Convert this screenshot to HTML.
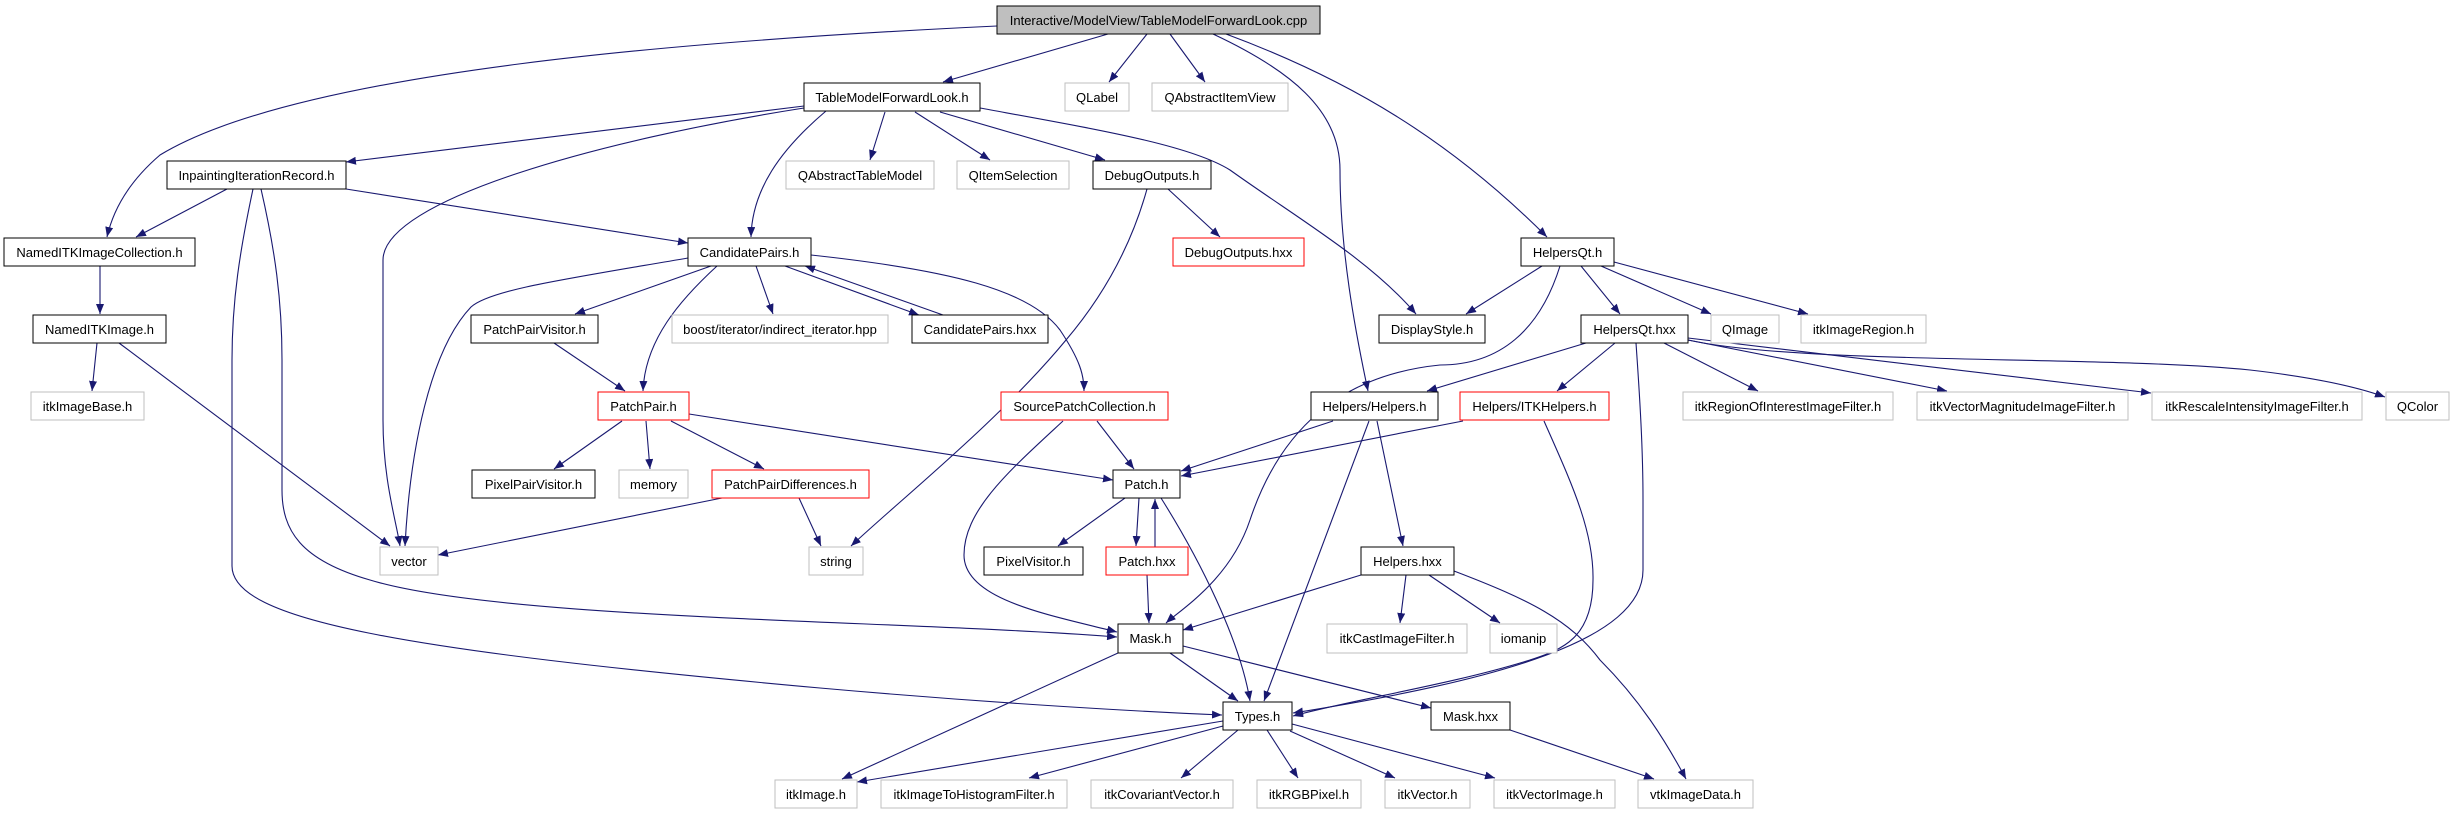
<!DOCTYPE html>
<html><head><meta charset="utf-8"><style>
html,body{margin:0;padding:0;background:#fff;}
svg{display:block;}
text{font-family:"Liberation Sans",sans-serif;font-size:13px;fill:#000;}
.k{fill:#fff;stroke:#000;stroke-width:1}
.g{fill:#fff;stroke:#bfbfbf;stroke-width:1}
.r{fill:#fff;stroke:#ff0000;stroke-width:1}
.e{fill:none;stroke:#191970;stroke-width:1.1;marker-end:url(#a)}
</style></head><body>
<svg width="2453" height="813" viewBox="0 0 2453 813" xmlns="http://www.w3.org/2000/svg">
<defs><marker id="a" markerUnits="userSpaceOnUse" markerWidth="11" markerHeight="8" refX="10" refY="4" orient="auto"><path d="M0,0 L10,4 L0,8 z" fill="#191970"/></marker></defs>

<path class="e" d="M997,26 C700,40 300,70 160,155 C125,185 112,215 107,237"/>
<path class="e" d="M1108,34 L943,82"/>
<path class="e" d="M1147,34 L1109,82"/>
<path class="e" d="M1170,34 L1205,82"/>
<path class="e" d="M1213,34 C1290,70 1340,110 1340,170 C1340,250 1355,330 1368,391"/>
<path class="e" d="M1226,34 C1350,80 1450,140 1547,237"/>
<path class="e" d="M804,106 L346,162"/>
<path class="e" d="M804,108 C600,140 383,200 383,260 L383,420 C383,480 396,520 400,546"/>
<path class="e" d="M826,111 C780,150 752,190 751,237"/>
<path class="e" d="M885,112 L870,160"/>
<path class="e" d="M915,112 L990,160"/>
<path class="e" d="M940,112 L1105,160"/>
<path class="e" d="M980,108 C1100,130 1190,145 1230,170 C1300,220 1370,260 1416,314"/>
<path class="e" d="M1147,189 C1130,250 1100,300 1066,340 C1000,420 900,500 851,546"/>
<path class="e" d="M1168,189 L1220,237"/>
<path class="e" d="M227,189 L136,237"/>
<path class="e" d="M346,189 L688,243"/>
<path class="e" d="M261,189 C275,250 282,300 282,360 L282,490 C282,530 300,560 370,580 C500,620 900,620 1117,637"/>
<path class="e" d="M253,189 C240,250 232,300 232,360 L232,566 C232,620 400,650 820,688 C1000,704 1150,712 1222,715"/>
<path class="e" d="M100,266 L100,314"/>
<path class="e" d="M97,343 L92,391"/>
<path class="e" d="M119,343 L390,546"/>
<path class="e" d="M688,258 C560,280 490,290 471,307 C430,350 410,450 405,546"/>
<path class="e" d="M711,266 L575,314"/>
<path class="e" d="M717,266 C680,300 645,340 643,391"/>
<path class="e" d="M756,266 L773,314"/>
<path class="e" d="M785,266 L919,315"/>
<path class="e" d="M943,315 L805,266"/>
<path class="e" d="M811,255 C950,270 1030,290 1060,330 C1080,360 1084,375 1084,391"/>
<path class="e" d="M1542,266 L1466,314"/>
<path class="e" d="M1560,266 C1540,330 1500,365 1440,365 C1340,375 1280,430 1250,520 C1230,580 1180,610 1166,623"/>
<path class="e" d="M1581,266 L1620,314"/>
<path class="e" d="M1601,266 L1711,314"/>
<path class="e" d="M1614,262 L1808,314"/>
<path class="e" d="M1586,343 L1427,391"/>
<path class="e" d="M1615,343 L1557,391"/>
<path class="e" d="M1636,343 C1640,400 1643,450 1643,500 L1643,570 C1643,640 1500,680 1293,713"/>
<path class="e" d="M1664,343 L1758,391"/>
<path class="e" d="M1688,340 L1947,391"/>
<path class="e" d="M1688,338 L2151,393"/>
<path class="e" d="M1688,340 C1800,365 2100,355 2250,370 C2320,378 2360,388 2385,397"/>
<path class="e" d="M622,421 L554,469"/>
<path class="e" d="M646,421 L650,469"/>
<path class="e" d="M671,421 L764,469"/>
<path class="e" d="M689,414 L1113,480"/>
<path class="e" d="M554,343 L625,391"/>
<path class="e" d="M722,498 L438,555"/>
<path class="e" d="M799,498 L821,546"/>
<path class="e" d="M1097,421 L1134,469"/>
<path class="e" d="M1063,421 C1010,470 964,510 964,555 C964,600 1050,615 1117,632"/>
<path class="e" d="M1333,421 L1181,471"/>
<path class="e" d="M1463,421 L1181,476"/>
<path class="e" d="M1369,421 L1264,701"/>
<path class="e" d="M1377,421 L1403,546"/>
<path class="e" d="M1544,421 C1570,480 1594,530 1593,580 C1593,640 1560,650 1530,660 C1450,685 1350,700 1293,716"/>
<path class="e" d="M1125,498 L1058,546"/>
<path class="e" d="M1139,498 L1136,546"/>
<path class="e" d="M1155,547 L1155,499"/>
<path class="e" d="M1161,498 C1200,560 1240,640 1250,701"/>
<path class="e" d="M1147,575 L1149,623"/>
<path class="e" d="M1361,575 L1183,630"/>
<path class="e" d="M1406,575 L1400,623"/>
<path class="e" d="M1429,575 L1500,623"/>
<path class="e" d="M1454,571 C1530,600 1570,620 1600,660 C1640,700 1665,740 1686,779"/>
<path class="e" d="M1118,653 L842,779"/>
<path class="e" d="M1170,653 L1238,701"/>
<path class="e" d="M1183,646 L1431,708"/>
<path class="e" d="M1223,721 L857,782"/>
<path class="e" d="M1223,726 L1029,778"/>
<path class="e" d="M1238,730 L1181,778"/>
<path class="e" d="M1267,730 L1298,778"/>
<path class="e" d="M1290,731 L1395,778"/>
<path class="e" d="M1292,724 L1495,778"/>
<path class="e" d="M1510,730 L1654,779"/>

<rect x="997" y="6" width="323" height="28" fill="#bfbfbf" stroke="#000"/><text x="1158.5" y="25" text-anchor="middle">Interactive/ModelView/TableModelForwardLook.cpp</text>
<rect class="k" x="804" y="83" width="176" height="28"/><text x="892" y="102" text-anchor="middle">TableModelForwardLook.h</text>
<rect class="g" x="1065" y="83" width="64" height="28"/><text x="1097" y="102" text-anchor="middle">QLabel</text>
<rect class="g" x="1152" y="83" width="136" height="28"/><text x="1220" y="102" text-anchor="middle">QAbstractItemView</text>
<rect class="k" x="167" y="161" width="179" height="28"/><text x="256.5" y="180" text-anchor="middle">InpaintingIterationRecord.h</text>
<rect class="g" x="786" y="161" width="148" height="28"/><text x="860" y="180" text-anchor="middle">QAbstractTableModel</text>
<rect class="g" x="957" y="161" width="112" height="28"/><text x="1013" y="180" text-anchor="middle">QItemSelection</text>
<rect class="k" x="1093" y="161" width="118" height="28"/><text x="1152" y="180" text-anchor="middle">DebugOutputs.h</text>
<rect class="k" x="4" y="238" width="191" height="28"/><text x="99.5" y="257" text-anchor="middle">NamedITKImageCollection.h</text>
<rect class="k" x="688" y="238" width="123" height="28"/><text x="749.5" y="257" text-anchor="middle">CandidatePairs.h</text>
<rect class="r" x="1173" y="238" width="131" height="28"/><text x="1238.5" y="257" text-anchor="middle">DebugOutputs.hxx</text>
<rect class="k" x="1521" y="238" width="93" height="28"/><text x="1567.5" y="257" text-anchor="middle">HelpersQt.h</text>
<rect class="k" x="33" y="315" width="133" height="28"/><text x="99.5" y="334" text-anchor="middle">NamedITKImage.h</text>
<rect class="k" x="471" y="315" width="127" height="28"/><text x="534.5" y="334" text-anchor="middle">PatchPairVisitor.h</text>
<rect class="g" x="672" y="315" width="216" height="28"/><text x="780" y="334" text-anchor="middle">boost/iterator/indirect_iterator.hpp</text>
<rect class="k" x="912" y="315" width="136" height="28"/><text x="980" y="334" text-anchor="middle">CandidatePairs.hxx</text>
<rect class="k" x="1379" y="315" width="106" height="28"/><text x="1432" y="334" text-anchor="middle">DisplayStyle.h</text>
<rect class="k" x="1581" y="315" width="107" height="28"/><text x="1634.5" y="334" text-anchor="middle">HelpersQt.hxx</text>
<rect class="g" x="1711" y="315" width="68" height="28"/><text x="1745" y="334" text-anchor="middle">QImage</text>
<rect class="g" x="1801" y="315" width="125" height="28"/><text x="1863.5" y="334" text-anchor="middle">itkImageRegion.h</text>
<rect class="g" x="31" y="392" width="113" height="28"/><text x="87.5" y="411" text-anchor="middle">itkImageBase.h</text>
<rect class="r" x="598" y="392" width="91" height="28"/><text x="643.5" y="411" text-anchor="middle">PatchPair.h</text>
<rect class="r" x="1001" y="392" width="167" height="28"/><text x="1084.5" y="411" text-anchor="middle">SourcePatchCollection.h</text>
<rect class="k" x="1311" y="392" width="127" height="28"/><text x="1374.5" y="411" text-anchor="middle">Helpers/Helpers.h</text>
<rect class="r" x="1460" y="392" width="149" height="28"/><text x="1534.5" y="411" text-anchor="middle">Helpers/ITKHelpers.h</text>
<rect class="g" x="1683" y="392" width="210" height="28"/><text x="1788" y="411" text-anchor="middle">itkRegionOfInterestImageFilter.h</text>
<rect class="g" x="1917" y="392" width="211" height="28"/><text x="2022.5" y="411" text-anchor="middle">itkVectorMagnitudeImageFilter.h</text>
<rect class="g" x="2152" y="392" width="210" height="28"/><text x="2257" y="411" text-anchor="middle">itkRescaleIntensityImageFilter.h</text>
<rect class="g" x="2386" y="392" width="63" height="28"/><text x="2417.5" y="411" text-anchor="middle">QColor</text>
<rect class="k" x="472" y="470" width="123" height="28"/><text x="533.5" y="489" text-anchor="middle">PixelPairVisitor.h</text>
<rect class="g" x="619" y="470" width="69" height="28"/><text x="653.5" y="489" text-anchor="middle">memory</text>
<rect class="r" x="712" y="470" width="157" height="28"/><text x="790.5" y="489" text-anchor="middle">PatchPairDifferences.h</text>
<rect class="k" x="1113" y="470" width="67" height="28"/><text x="1146.5" y="489" text-anchor="middle">Patch.h</text>
<rect class="g" x="380" y="547" width="58" height="28"/><text x="409" y="566" text-anchor="middle">vector</text>
<rect class="g" x="809" y="547" width="54" height="28"/><text x="836" y="566" text-anchor="middle">string</text>
<rect class="k" x="984" y="547" width="99" height="28"/><text x="1033.5" y="566" text-anchor="middle">PixelVisitor.h</text>
<rect class="r" x="1106" y="547" width="82" height="28"/><text x="1147" y="566" text-anchor="middle">Patch.hxx</text>
<rect class="k" x="1361" y="547" width="93" height="28"/><text x="1407.5" y="566" text-anchor="middle">Helpers.hxx</text>
<rect class="k" x="1118" y="624" width="65" height="29"/><text x="1150.5" y="643" text-anchor="middle">Mask.h</text>
<rect class="g" x="1327" y="624" width="140" height="29"/><text x="1397" y="643" text-anchor="middle">itkCastImageFilter.h</text>
<rect class="g" x="1490" y="624" width="67" height="29"/><text x="1523.5" y="643" text-anchor="middle">iomanip</text>
<rect class="k" x="1223" y="702" width="69" height="28"/><text x="1257.5" y="721" text-anchor="middle">Types.h</text>
<rect class="k" x="1431" y="702" width="79" height="28"/><text x="1470.5" y="721" text-anchor="middle">Mask.hxx</text>
<rect class="g" x="775" y="780" width="82" height="28"/><text x="816" y="799" text-anchor="middle">itkImage.h</text>
<rect class="g" x="881" y="780" width="186" height="28"/><text x="974" y="799" text-anchor="middle">itkImageToHistogramFilter.h</text>
<rect class="g" x="1091" y="780" width="142" height="28"/><text x="1162" y="799" text-anchor="middle">itkCovariantVector.h</text>
<rect class="g" x="1257" y="780" width="104" height="28"/><text x="1309" y="799" text-anchor="middle">itkRGBPixel.h</text>
<rect class="g" x="1385" y="780" width="85" height="28"/><text x="1427.5" y="799" text-anchor="middle">itkVector.h</text>
<rect class="g" x="1494" y="780" width="121" height="28"/><text x="1554.5" y="799" text-anchor="middle">itkVectorImage.h</text>
<rect class="g" x="1638" y="780" width="115" height="28"/><text x="1695.5" y="799" text-anchor="middle">vtkImageData.h</text>
</svg>
</body></html>
